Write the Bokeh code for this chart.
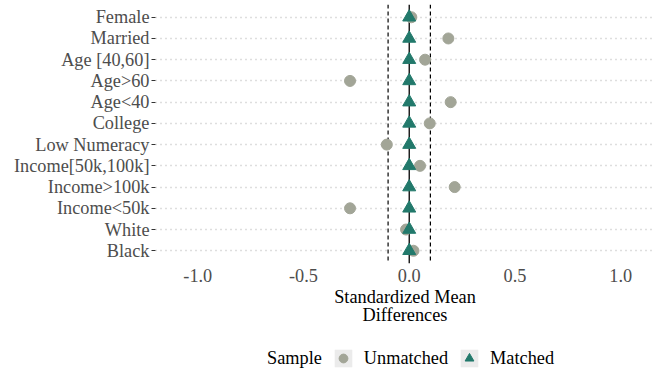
from bokeh.plotting import figure
from bokeh.layouts import column
from bokeh.models import (ColumnDataSource, FixedTicker, Span, Legend, LegendItem,
                          PrintfTickFormatter)
from bokeh.embed import file_html
from bokeh.resources import INLINE

categories = ["Female", "Married", "Age [40,60]", "Age>60", "Age<40", "College",
              "Low Numeracy", "Income[50k,100k]", "Income>100k", "Income<50k", "White", "Black"]
unmatched = [0.01, 0.185, 0.075, -0.28, 0.196, 0.097, -0.106, 0.051, 0.215, -0.28, -0.015, 0.02]
matched = [0.0] * len(categories)
x_ticks = [-1.0, -0.5, 0.0, 0.5, 1.0]
thresholds = [-0.1, 0.1]

FONT = "Liberation Serif"
FS = "18.3px"
n = len(categories)
ypos = [n - i for i in range(n)]

src = ColumnDataSource(dict(y=ypos, cat=categories, unmatched=unmatched, matched=matched))

p = figure(width=654, height=338, x_range=(-1.2, 1.16), y_range=(0.4, 12.6),
           output_backend="svg", toolbar_location=None,
           min_border_left=155, min_border_right=0, min_border_top=4, min_border_bottom=75)
p.outline_line_color = None
p.background_fill_color = "white"

# axes
p.yaxis.ticker = FixedTicker(ticks=ypos)
p.yaxis.major_label_overrides = {y: c for y, c in zip(ypos, categories)}
p.yaxis.major_label_text_font = FONT
p.yaxis.major_label_text_font_size = FS
p.yaxis.major_label_text_color = "#4D4D4D"
p.yaxis.axis_line_color = None
p.yaxis.major_tick_line_color = "#333333"
p.yaxis.major_tick_out = 4
p.yaxis.major_tick_in = 0
p.yaxis.minor_tick_line_color = None
p.yaxis.major_label_standoff = 2

p.xaxis.ticker = FixedTicker(ticks=x_ticks)
p.xaxis.formatter = PrintfTickFormatter(format="%.1f")
p.xaxis.major_label_text_font = FONT
p.xaxis.major_label_text_font_size = FS
p.xaxis.major_label_text_color = "#4D4D4D"
p.xaxis.axis_line_color = None
p.xaxis.major_tick_line_color = None
p.xaxis.minor_tick_line_color = None
p.xaxis.major_tick_out = 0
p.xaxis.major_label_standoff = 5
p.xaxis.axis_label = "Standardized Mean\nDifferences"
p.xaxis.axis_label_text_font = FONT
p.xaxis.axis_label_text_font_size = FS
p.xaxis.axis_label_text_font_style = "normal"
p.xaxis.axis_label_text_color = "black"
p.xaxis.axis_label_text_line_height = 0.9
p.xaxis.axis_label_standoff = 2

p.xgrid.grid_line_color = None
p.ygrid.ticker = FixedTicker(ticks=ypos)
p.ygrid.grid_line_color = "#BDBDBD"
p.ygrid.grid_line_dash = "1 4"
p.ygrid.grid_line_width = 1.3

# reference lines
p.add_layout(Span(location=0, dimension="height", line_color="black", line_width=1.3, level="underlay"))
for t in thresholds:
    p.add_layout(Span(location=t, dimension="height", line_color="black", line_width=1.2,
                      line_dash="4 3", level="underlay"))

CIRC = "#A2A597"
TRI = "#22796B"
r_un = p.scatter("unmatched", "y", source=src, marker="circle", size=11,
                 fill_color=CIRC, line_color=CIRC)
r_m = p.scatter("matched", "y", source=src, marker="triangle", size=13,
                fill_color=TRI, line_color=TRI)

# legend strip (its renderers share the data but its view range shows none of it)
lf = figure(width=654, height=38, x_range=(10, 11), y_range=(100, 101), output_backend="svg",
            toolbar_location=None, x_axis_type=None, y_axis_type=None,
            min_border_left=0, min_border_right=0, min_border_top=0, min_border_bottom=0)
lf.outline_line_color = None
lf.xgrid.grid_line_color = None
lf.ygrid.grid_line_color = None

blank = lf.scatter("unmatched", "y", source=src, marker="circle", size=1, fill_alpha=0, line_alpha=0)
bg1 = lf.rect("unmatched", "y", width=0.01, height=0.01, source=src, fill_color="#EBEBEB", line_color=None)
c1 = lf.scatter("unmatched", "y", source=src, marker="circle", size=11, fill_color=CIRC, line_color=CIRC)
bg2 = lf.rect("matched", "y", width=0.01, height=0.01, source=src, fill_color="#EBEBEB", line_color=None)
t2 = lf.scatter("matched", "y", source=src, marker="triangle", size=15, fill_color=TRI, line_color=TRI)

legend = Legend(items=[LegendItem(label="Sample", renderers=[blank]),
                       LegendItem(label="Unmatched", renderers=[bg1, c1]),
                       LegendItem(label="Matched", renderers=[bg2, t2])],
                orientation="horizontal", location=(80, 7),
                glyph_width=22, glyph_height=22, label_standoff=10, spacing=10,
                padding=0, margin=0, border_line_color=None, background_fill_alpha=0,
                label_text_font=FONT, label_text_font_size=FS, label_text_color="black")
lf.add_layout(legend, "center")

open("out.html", "w").write(file_html(column(p, lf), INLINE))
